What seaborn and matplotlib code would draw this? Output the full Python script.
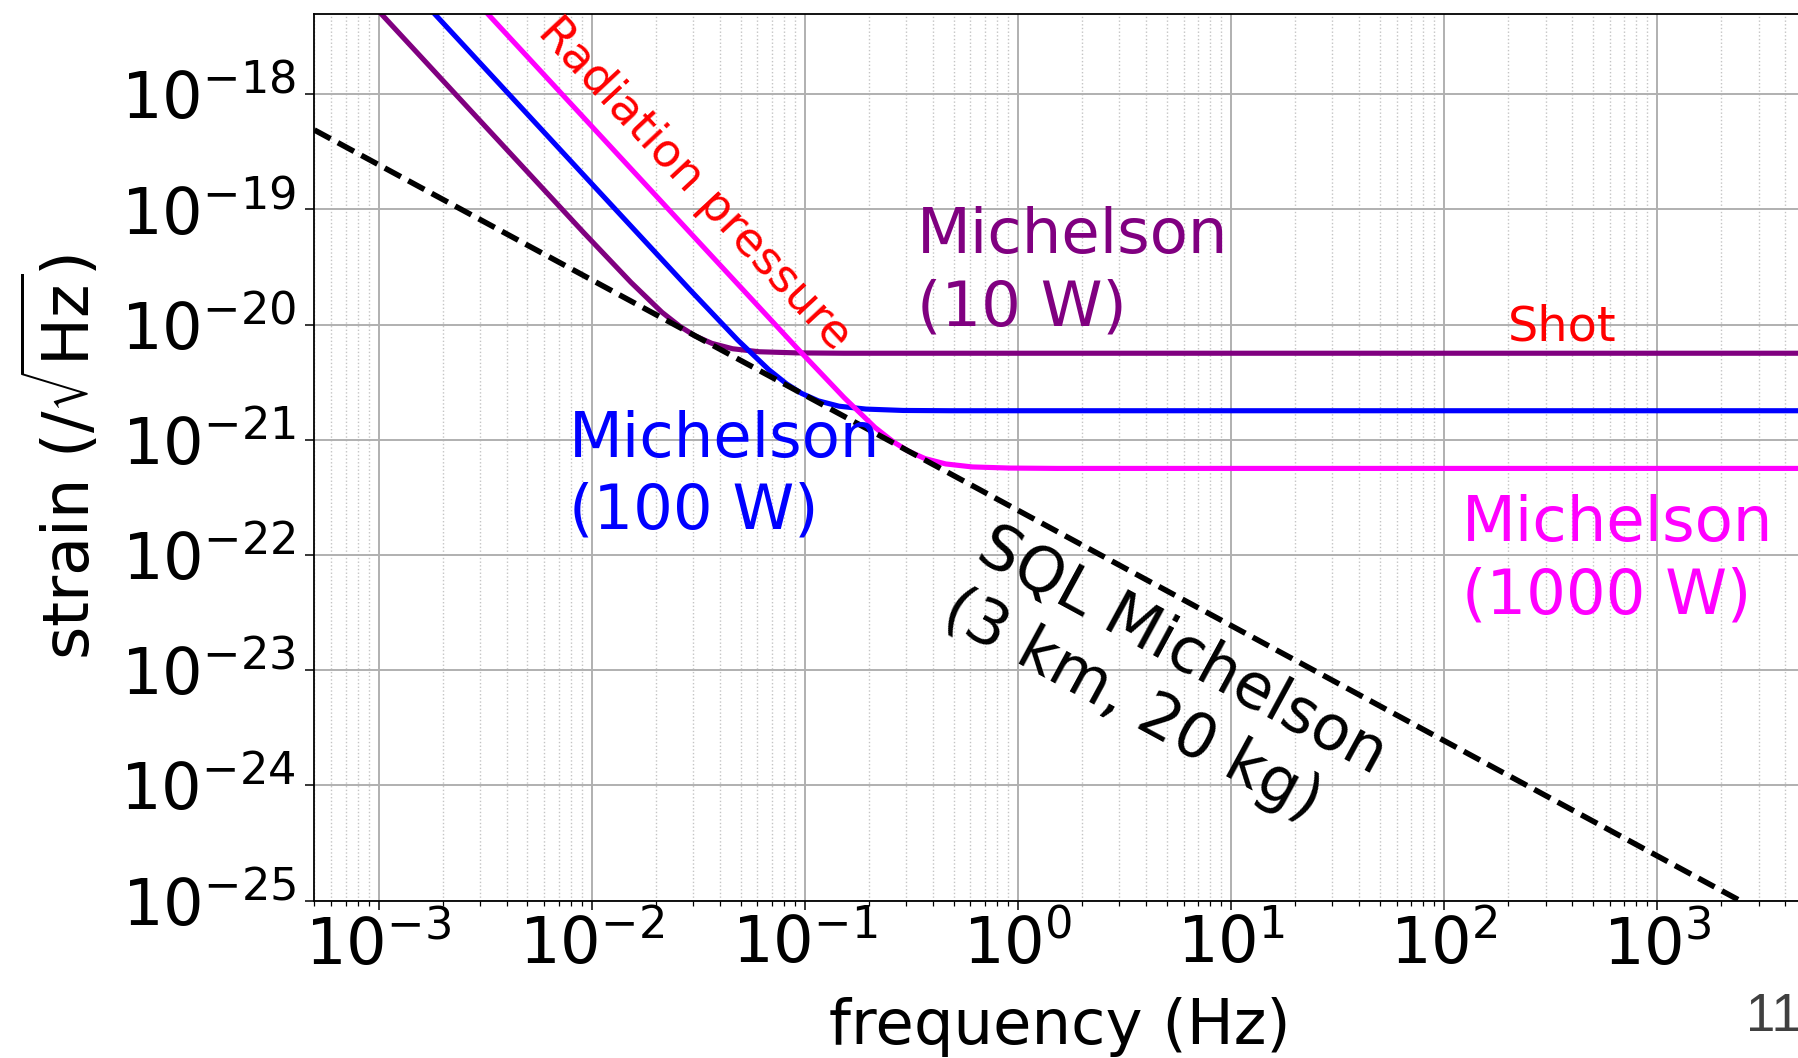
import matplotlib
matplotlib.use("Agg")
import matplotlib.pyplot as plt
import numpy as np
import pandas as pd
import seaborn as sns
from matplotlib.ticker import LogLocator, NullLocator, NullFormatter

# Strain noise of a Michelson interferometer at three laser powers (1/sqrt(Hz))
freq_10w = [1.53e-4, 3.06e-3, 9.18e-3, 1.53e-2, 2.14e-2, 2.60e-2, 3.06e-2,
            3.67e-2, 4.59e-2, 6.12e-2, 9.18e-2, 0.153, 1e4]
strain_10w = [2.26e-16, 5.65e-19, 6.30e-20, 2.33e-20, 1.28e-20, 9.65e-21, 7.99e-21,
              6.88e-21, 6.18e-21, 5.82e-21, 5.69e-21, 5.65e-21, 5.65e-21]

freq_100w = [4.84e-4, 9.68e-3, 2.90e-2, 4.84e-2, 6.78e-2, 8.23e-2, 9.68e-2,
             0.116, 0.145, 0.194, 0.290, 0.484, 1e4]
strain_100w = [7.16e-17, 1.79e-19, 2.00e-20, 7.38e-21, 4.07e-21, 3.06e-21, 2.53e-21,
               2.18e-21, 1.96e-21, 1.85e-21, 1.80e-21, 1.79e-21, 1.79e-21]

freq_1000w = [1.53e-3, 3.06e-2, 9.18e-2, 0.153, 0.214, 0.260, 0.306,
              0.367, 0.459, 0.612, 0.918, 1.53, 1e4]
strain_1000w = [2.26e-17, 5.65e-20, 6.30e-21, 2.33e-21, 1.28e-21, 9.65e-22, 7.99e-22,
                6.88e-22, 6.18e-22, 5.82e-22, 5.69e-22, 5.65e-22, 5.65e-22]

# Standard quantum limit, 3 km arms, 20 kg mirrors
freq_sql = [5e-4, 1e-2, 1.0, 1e2, 1e4]
strain_sql = [4.9e-19, 2.45e-20, 2.45e-22, 2.45e-24, 2.45e-26]

curve_names = ["Michelson (10 W)", "Michelson (100 W)", "Michelson (1000 W)", "SQL"]
curve_colors = ["purple", "blue", "magenta", "black"]

curves = pd.concat([
    pd.DataFrame({"frequency": freq_10w, "strain": strain_10w, "curve": curve_names[0]}),
    pd.DataFrame({"frequency": freq_100w, "strain": strain_100w, "curve": curve_names[1]}),
    pd.DataFrame({"frequency": freq_1000w, "strain": strain_1000w, "curve": curve_names[2]}),
    pd.DataFrame({"frequency": freq_sql, "strain": strain_sql, "curve": curve_names[3]}),
], ignore_index=True)

sns.set_style("ticks")
plt.rcParams["font.family"] = ["DejaVu Sans"]
plt.rcParams["mathtext.fontset"] = "dejavusans"
for key in ["text.color", "axes.labelcolor", "xtick.color", "ytick.color",
            "xtick.labelcolor", "ytick.labelcolor"]:
    plt.rcParams[key] = "black"

W, H = 1799, 1058
fig = plt.figure(figsize=(W / 100, H / 100), dpi=100)
ax = fig.add_axes([314.4 / W, (H - 900.6) / H, 1491.5 / W, 886.8 / H])

for name, color in zip(curve_names, curve_colors):
    sub = curves[curves["curve"] == name]
    is_sql = name == "SQL"
    sns.lineplot(data=sub, x="frequency", y="strain", ax=ax, color=color,
                 linestyle="--" if is_sql else "-",
                 estimator=None, sort=False, legend=False)
    line = ax.lines[-1]
    line.set_linewidth(4.0 if is_sql else 3.7)
    if is_sql:
        line.set_linestyle((0, (3.3, 1.5)))

ax.set_xscale("log")
ax.set_yscale("log")
ax.set_xlim(5e-4, 5e3)
ax.set_ylim(1e-25, 5e-18)

ax.xaxis.set_major_locator(LogLocator(base=10, numticks=20))
ax.xaxis.set_minor_locator(LogLocator(base=10, subs=np.arange(2, 10), numticks=50))
ax.xaxis.set_minor_formatter(NullFormatter())
ax.yaxis.set_major_locator(LogLocator(base=10, numticks=20))
ax.yaxis.set_minor_locator(NullLocator())

ax.grid(True, which="major", axis="both", color="#b0b0b0", lw=1.4, ls="-")
ax.grid(True, which="minor", axis="x", color="#c4c4c4", lw=1.0, ls=":")
ax.set_axisbelow(True)

for side in ["left", "bottom", "top", "right"]:
    ax.spines[side].set_visible(True)
    ax.spines[side].set_color("black")
    ax.spines[side].set_linewidth(1.3)

ax.tick_params(axis="both", which="major", direction="out", length=6.3, width=1.1,
               labelsize=46, color="black", labelcolor="black")
ax.tick_params(axis="both", which="minor", direction="out", length=3.8, width=0.9,
               color="black")
ax.tick_params(axis="y", which="major", pad=7)
ax.tick_params(axis="x", which="major", pad=3)

ax.set_xlabel("frequency (Hz)", fontsize=45, color="black")
ax.set_ylabel(r"strain (/$\sqrt{\mathrm{Hz}}$)", fontsize=46, color="black")
ax.xaxis.set_label_coords(0.5, -0.1087)
ax.xaxis.label.set_va("top")
ax.yaxis.set_label_coords(-0.142, 0.5)

ax.text(0.336, 1.066e-19, "Michelson\n(10 W)", color="purple", fontsize=45,
        ha="left", va="top", linespacing=1.25)
ax.text(7.83e-3, 1.81e-21, "Michelson\n(100 W)", color="blue", fontsize=45,
        ha="left", va="top", linespacing=1.25)
ax.text(121.6, 3.37e-22, "Michelson\n(1000 W)", color="magenta", fontsize=45,
        ha="left", va="top", linespacing=1.25)
ax.text(200, 7.33e-21, "Shot", color="red", fontsize=34.5, ha="left", va="baseline")
ax.text(5.53e-3, 3.41e-18, "Radiation pressure", color="red", fontsize=33.5,
        rotation=-47, rotation_mode="anchor", ha="left", va="baseline")
ax.text(0.791, 2.17e-22, "SQL Michelson\n(3 km, 20 kg)", color="black", fontsize=45,
        rotation=-28.5, rotation_mode="anchor", ha="left", va="top", linespacing=1.25)

fig.text(0.9705, 0.0255, "11", fontsize=38, color="#404040",
         family=["Liberation Sans", "DejaVu Sans"], ha="left", va="baseline")

fig.savefig("out.png", dpi=100)
